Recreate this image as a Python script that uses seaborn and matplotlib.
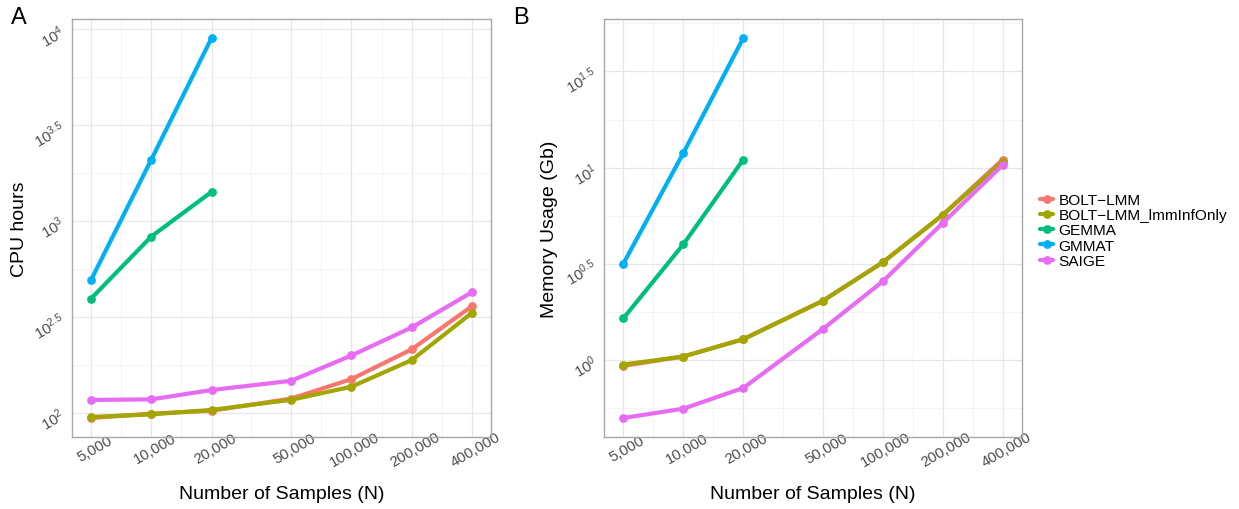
import numpy as np
import pandas as pd
import matplotlib
matplotlib.use("Agg")
import matplotlib.pyplot as plt
import seaborn as sns
from matplotlib.lines import Line2D
from matplotlib.ticker import FixedLocator, NullFormatter

# ---- data -------------------------------------------------------------
sample_sizes = [5000, 10000, 20000, 50000, 100000, 200000, 400000]
small_sizes = [5000, 10000, 20000]
methods = ["BOLT\u2212LMM", "BOLT\u2212LMM_lmmInfOnly", "GEMMA", "GMMAT", "SAIGE"]
colors = ["#F8766D", "#A3A500", "#00BF7D", "#00B0F6", "#E76BF3"]

# CPU hours
cpu_bolt = [94.2, 99.3, 102.8, 118.9, 150.3, 214.8, 360.6]
cpu_bolt_inf = [95.3, 98.4, 103.8, 117.2, 137.1, 188.8, 332.7]
cpu_gemma = [395, 832, 1422]
cpu_gmmat = [494, 2094, 9016]
cpu_saige = [117.0, 117.8, 131.8, 147.2, 199.5, 279.3, 426.6]

# Memory usage (Gb)
mem_bolt = [0.931, 1.042, 1.282, 2.028, 3.214, 5.675, 11.02]
mem_bolt_inf = [0.946, 1.042, 1.282, 2.028, 3.214, 5.675, 10.74]
mem_gemma = [1.644, 3.990, 11.02]
mem_gmmat = [3.162, 11.89, 47.2]
mem_saige = [0.499, 0.558, 0.715, 1.445, 2.559, 5.152, 10.33]

x_ticks = [5000, 10000, 20000, 50000, 100000, 200000, 400000]
x_tick_labels = ["5,000", "10,000", "20,000", "50,000", "100,000", "200,000", "400,000"]
cpu_tick_exps = [2, 2.5, 3, 3.5, 4]
mem_tick_exps = [0, 0.5, 1, 1.5]


def long_frame(series):
    rows = []
    for name, xs, ys in series:
        for x, y in zip(xs, ys):
            rows.append({"N": x, "value": y, "method": name})
    return pd.DataFrame(rows)


cpu_df = long_frame([
    (methods[0], sample_sizes, cpu_bolt),
    (methods[1], sample_sizes, cpu_bolt_inf),
    (methods[2], small_sizes, cpu_gemma),
    (methods[3], small_sizes, cpu_gmmat),
    (methods[4], sample_sizes, cpu_saige),
])
mem_df = long_frame([
    (methods[0], sample_sizes, mem_bolt),
    (methods[1], sample_sizes, mem_bolt_inf),
    (methods[2], small_sizes, mem_gemma),
    (methods[3], small_sizes, mem_gmmat),
    (methods[4], sample_sizes, mem_saige),
])

# ---- style ------------------------------------------------------------
sns.set_theme(style="white")
plt.rcParams["font.family"] = ["Liberation Sans", "DejaVu Sans"]
plt.rcParams["text.color"] = "black"
plt.rcParams["mathtext.fontset"] = "custom"
plt.rcParams["mathtext.rm"] = "Liberation Sans"
plt.rcParams["mathtext.it"] = "Liberation Sans:italic"
plt.rcParams["mathtext.bf"] = "Liberation Sans:bold"

BORDER = "#a8a8a8"
GRID_MAJOR = "#e6e6e6"
GRID_MINOR = "#f0f0f0"
TICK_TEXT = "#4d4d4d"
LW = 3.0
MS = 6.3

W, H = 1239, 510
fig = plt.figure(figsize=(W / 100, H / 100), dpi=100)


def px_axes(left, top, right, bottom):
    return fig.add_axes([left / W, (H - bottom) / H, (right - left) / W, (bottom - top) / H])


def log_limits(vals, frac=0.05):
    lv = np.log10(np.asarray(vals, dtype=float))
    lo, hi = lv.min(), lv.max()
    pad = (hi - lo) * frac
    return 10 ** (lo - pad), 10 ** (hi + pad)


def minor_breaks(exps):
    e = list(exps)
    ext = [2 * e[0] - e[1]] + e + [2 * e[-1] - e[-2]]
    return [(a + b) / 2 for a, b in zip(ext[:-1], ext[1:])]


def style_panel(ax, df, y_exps):
    sns.lineplot(data=df, x="N", y="value", hue="method", hue_order=methods,
                 palette=colors, marker="o", markersize=MS, markeredgewidth=0,
                 linewidth=LW, estimator=None, sort=True, legend=False, ax=ax)
    ax.set_xscale("log")
    ax.set_yscale("log")
    ax.set_xlim(*log_limits(df["N"]))
    ax.set_ylim(*log_limits(df["value"]))

    ax.xaxis.set_major_locator(FixedLocator(x_ticks))
    ax.set_xticklabels(x_tick_labels)
    lx = np.log10(x_ticks)
    ax.xaxis.set_minor_locator(FixedLocator(10 ** np.array(minor_breaks(lx))))
    ax.xaxis.set_minor_formatter(NullFormatter())

    ax.yaxis.set_major_locator(FixedLocator([10 ** e for e in y_exps]))
    ax.set_yticklabels([r"$\mathregular{10^{%g}}$" % e for e in y_exps])
    ax.yaxis.set_minor_locator(FixedLocator(10 ** np.array(minor_breaks(y_exps))))
    ax.yaxis.set_minor_formatter(NullFormatter())

    ax.grid(which="major", color=GRID_MAJOR, linewidth=0.9)
    ax.grid(which="minor", color=GRID_MINOR, linewidth=0.5)
    ax.set_axisbelow(True)
    for s in ax.spines.values():
        s.set_color(BORDER)
        s.set_linewidth(1.0)

    ax.tick_params(which="major", length=3, width=0.8, color=BORDER,
                   labelsize=10.8, labelcolor=TICK_TEXT)
    ax.tick_params(which="minor", length=0)
    ax.tick_params(axis="x", which="major", pad=1)
    ax.tick_params(axis="y", which="major", pad=3)
    for lab in ax.get_xticklabels():
        lab.set_rotation(30)
        lab.set_rotation_mode("anchor")
        lab.set_ha("center")
        lab.set_va("top")
    for lab in ax.get_yticklabels():
        lab.set_rotation(30)
        lab.set_rotation_mode("anchor")
        lab.set_ha("right")
        lab.set_va("center")
    ax.set_xlabel("")
    ax.set_ylabel("")


ax_cpu = px_axes(72, 20, 491, 438)
style_panel(ax_cpu, cpu_df, cpu_tick_exps)
ax_mem = px_axes(604.3, 20, 1021.7, 438)
style_panel(ax_mem, mem_df, mem_tick_exps)

# axis titles and panel tags
fig.text(281.5 / W, 1 - 495 / H, "Number of Samples (N)", ha="center", va="center", fontsize=14)
fig.text(813 / W, 1 - 495 / H, "Number of Samples (N)", ha="center", va="center", fontsize=14)
fig.text(20 / W, 1 - 229 / H, "CPU hours", ha="center", va="center", rotation=90, fontsize=14)
fig.text(549 / W, 1 - 229 / H, "Memory Usage (Gb)", ha="center", va="center", rotation=90, fontsize=14)
fig.text(11 / W, 1 - 18 / H, "A", ha="left", va="center", fontsize=17)
fig.text(513 / W, 1 - 18 / H, "B", ha="left", va="center", fontsize=17)

# legend
handles = [Line2D([0], [0], color=c, linewidth=LW, marker="o", markersize=MS,
                  markeredgewidth=0) for c in colors]
fig.legend(handles, methods, loc="center left", bbox_to_anchor=(1040 / W, 1 - 231.5 / H),
           frameon=False, fontsize=11.1, handlelength=0.85, handletextpad=0.35,
           labelspacing=0.08, borderpad=0, borderaxespad=0)

fig.savefig("out.png", dpi=100)
